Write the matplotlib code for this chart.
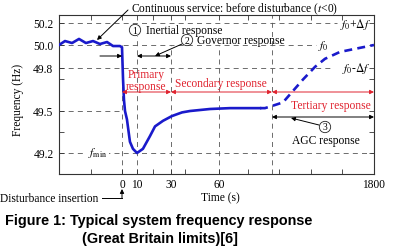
import numpy as np
import matplotlib
matplotlib.use("Agg")
import matplotlib.pyplot as plt

# --- values (schematic) ---
# solid part: before disturbance, inertial drop, governor recovery
t_solid = [-40, -36.2, -31.7, -27.3, -22.9, -18.4, -14.0, -9.5, -5.7, -1.3, 0,
           0.7, 1.3, 2.0, 3.3, 5.3, 7.3, 10, 13.5, 17.6, 20.6, 25.3, 30.6,
           36.9, 41.9, 54.4, 66.2, 83.2]
f_solid = [50.0, 50.036, 50.018, 50.055, 50.018, 50.036, 50.009, 50.027, 49.991, 49.991, 49.98,
           49.72, 49.58, 49.5, 49.44, 49.28, 49.23, 49.2, 49.23, 49.32, 49.39, 49.43, 49.464,
           49.49, 49.5, 49.514, 49.52, 49.52]
# dashed part: AGC / tertiary recovery
t_agc = [83.2, 86, 90, 274, 442, 610, 811, 979, 1230, 1515, 1800]
f_agc = [49.52, 49.52, 49.535, 49.56, 49.64, 49.72, 49.81, 49.88, 49.94, 49.97, 50.0]

x_ticks = [0, 10, 30, 60, 1800]
x_ticklabels = ["0", "10", "30", "60", "1800"]
x_minor = [-20, 19.4, 38.8, 76.4, 207, 744, 1263]
y_ticks = [49.2, 49.5, 49.8, 50.0, 50.2]
y_ticklabels = ["49.2", "49.5", "49.8", "50.0", "50.2"]
y_minor = [49.35, 49.72]

# phase boundaries (s) and frequency levels (Hz)
t_bounds = [0, 10, 30, 60, 90]
f_levels = [50.2, 50.0, 49.8, 49.5, 49.2]

# the original axes are not to scale: piecewise mapping
T_ANCH = [-40, 0, 10, 30, 60, 90, 1800]
T_POS = [0, 63, 78, 112, 160, 213, 315]
F_ANCH = [49.05, 49.2, 49.5, 49.8, 50.0, 50.2, 50.27]
F_POS = [0, 21, 63, 106, 129, 151, 159]


def fwd_t(t):
    return np.interp(t, T_ANCH, T_POS)


def inv_t(p):
    return np.interp(p, T_POS, T_ANCH)


def fwd_f(f):
    return np.interp(f, F_ANCH, F_POS)


def inv_f(p):
    return np.interp(p, F_POS, F_ANCH)


W, H = 396, 251
plt.rcParams['font.family'] = ['Liberation Serif', 'DejaVu Serif']
plt.rcParams['mathtext.fontset'] = 'stix'

BLUE = '#1a1acb'
RED = '#e0222e'
GRID = '#555555'
FS = 8.3

fig = plt.figure(figsize=(W / 100, H / 100), dpi=100)
ax = fig.add_axes([59 / W, 1 - 175 / H, 315 / W, 159 / H])
ax.set_xscale('function', functions=(fwd_t, inv_t))
ax.set_yscale('function', functions=(fwd_f, inv_f))
ax.set_xlim(-40, 1800)
ax.set_ylim(49.05, 50.27)


def fp(x, y):
    # figure pixel (from top-left) -> figure fraction
    return (x / W, 1 - y / H)


def yc(y):
    return 1 - y / H


mix = ('data', 'figure fraction')

# dashed guide lines
dash = dict(color=GRID, lw=0.6, ls=(0, (6, 5)), zorder=1)
v_tops = [50.0, 50.08, 50.0, 50.0, 50.27]
for tb, top in zip(t_bounds, v_tops):
    ax.plot([tb, tb], [49.05, top], **dash)
h_ends = [1180, 827, 1129, 0, 1800]
for fl, te in zip(f_levels, h_ends):
    ax.plot([-40, te], [fl, fl], **dash)

# frequency curve
ax.plot(t_solid, f_solid, color=BLUE, lw=1.9, zorder=3, solid_joinstyle='round')
ax.plot(t_agc, f_agc, color=BLUE, lw=1.9, ls=(0, (3, 2)), zorder=3)

# axes styling
ax.set_xticks(x_ticks, labels=x_ticklabels)
ax.set_xticks(x_minor, minor=True)
ax.set_yticks(y_ticks, labels=y_ticklabels)
ax.set_yticks(y_minor, minor=True)
ax.tick_params(which='both', direction='in', top=True, right=True, length=3.5,
               width=0.6, color='#333333', labelsize=FS)
ax.tick_params(axis='x', pad=3)
ax.tick_params(axis='y', pad=4)
for sp in ax.spines.values():
    sp.set_linewidth(0.8)
    sp.set_color('#333333')

props = dict(color='k', lw=0.7, mutation_scale=6, shrinkA=0, shrinkB=0)


def arrow(p0, p1, style='-|>', color='k', coords='figure fraction'):
    ax.annotate('', xy=p1, xytext=p0, xycoords=coords, textcoords=coords,
                arrowprops=dict(props, arrowstyle=style, color=color),
                annotation_clip=False)


# top annotation and leader
fig.text(*fp(131, 9), 'Continuous service: before disturbance ($t$<0)', fontsize=FS, va='center')
arrow(fp(128, 11), fp(97, 41))

# inertial / governor markers
circ = dict(boxstyle='circle,pad=0.12', fc='white', ec='#222222', lw=0.6)
fig.text(*fp(135, 31), '1', fontsize=7, ha='center', va='center', bbox=circ)
fig.text(*fp(146, 31), 'Inertial response', fontsize=FS, va='center')
fig.text(*fp(187, 41), '2', fontsize=7, ha='center', va='center', bbox=circ)
fig.text(*fp(197, 41), 'Governor response', fontsize=FS, va='center')
arrow((-14, yc(57)), (0, yc(57)), coords=mix)
arrow((30, yc(57)), (10, yc(57)), style='<|-|>', coords=mix)
arrow(fp(182, 45), fp(155, 57))

# response phases (red)
red_spans = [(0, 30), (30, 90), (90, 1800)]
for a, b in red_spans:
    arrow((b, yc(93)), (a, yc(93)), style='<|-|>', color=RED, coords=mix)
fig.text(*fp(146, 75), 'Primary', color=RED, fontsize=FS, ha='center', va='center')
fig.text(*fp(146, 87), 'response', color=RED, fontsize=FS, ha='center', va='center')
fig.text(*fp(221, 84), 'Secondary response', color=RED, fontsize=FS, ha='center', va='center')
fig.text(*fp(331, 106), 'Tertiary response', color=RED, fontsize=FS, ha='center', va='center')

# AGC
arrow((1800, yc(118)), (90, yc(118)), style='<|-|>', coords=mix)
fig.text(*fp(325, 128), '3', fontsize=7, ha='center', va='center', bbox=circ)
arrow(fp(319, 126), fp(291, 119))
fig.text(*fp(326, 141), 'AGC response', fontsize=FS, ha='center', va='center')

# frequency level labels
fig.text(*fp(356, 24), r'$f_0$+$\Delta f$', fontsize=FS, ha='center', va='center')
fig.text(*fp(323, 46), r'$f_0$', fontsize=FS, ha='center', va='center')
fig.text(*fp(356, 69), r'$f_0$-$\Delta f$', fontsize=FS, ha='center', va='center')
fig.text(*fp(98, 153), r'$f_{\rm min}$', fontsize=FS, ha='center', va='center',
         bbox=dict(fc='white', ec='none', pad=0.8))

# disturbance insertion
fig.text(*fp(0, 199), 'Disturbance insertion', fontsize=FS, va='center')
fig.add_artist(plt.Line2D([102 / W, 122 / W], [yc(199), yc(199)], color='k', lw=0.7))
arrow(fp(122, 199), fp(122, 190))

# axis titles
fig.text(*fp(220, 198), 'Time (s)', fontsize=FS, ha='center', va='center')
fig.text(*fp(18, 100), 'Frequency (Hz)', fontsize=FS, ha='center', va='center', rotation=90)

# caption
cap = dict(family='Liberation Sans', weight='bold', fontsize=10.4, va='center')
fig.text(*fp(5, 221), 'Figure 1: Typical system frequency response', **cap)
fig.text(*fp(82, 239), '(Great Britain limits)[6]', **cap)

fig.savefig('out.png', dpi=100)
